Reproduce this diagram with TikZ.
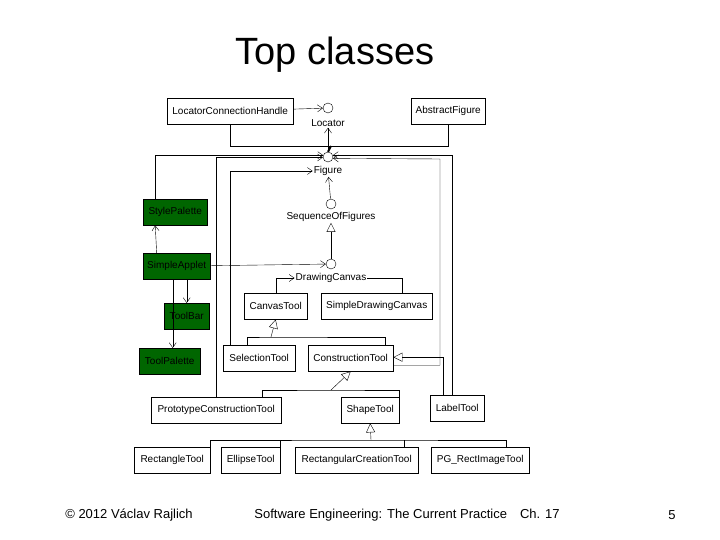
\documentclass[tikz,border=0pt]{standalone}
\usepackage{fontspec}
\setmainfont{Liberation Sans}
\usetikzlibrary{positioning,calc,arrows.meta}
\tikzset{
   umlClass/.style = {
         rectangle,
         draw,
         fill = white,
         anchor = north west,
         inner sep = 1pt,
         font = \fontsize{10}{11}\selectfont,
      },
   umlGreen/.style = {
         umlClass,
         fill = green!40!black,
      },
   umlIface/.style = {
         circle,
         draw,
         fill = white,
         minimum size = 10pt,
         inner sep = 0pt,
      },
   umlName/.style = {
         font = \fontsize{10}{11}\selectfont,
         inner sep = 1pt,
      },
   umlUse/.style = {
         draw,
         -{Straight Barb[open,length=5pt,width=7pt]},
      },
   umlGen/.style = {
         draw,
         -{Triangle[open,length=9pt,width=9pt]},
      },
}
\newcommand{\umlBox}[6][umlClass]{%
   \node [#1, minimum width=#5pt-#3pt, minimum height=26pt] (#2) at (#3,#4) {#6};}

\begin{document}
\begin{tikzpicture}[x=1pt, y=-1pt]
\useasboundingbox (0,0) rectangle (720,540);

% Title and footer
\node (title) at (335,55) {\fontsize{38}{42}\selectfont Top classes};
\node (copy) at (129,515) {\fontsize{13}{15}\selectfont \textcopyright{} 2012 Václav Rajlich};
\node (course) at (407,515) {\fontsize{13}{15}\selectfont Software Engineering: The Current Practice\quad Ch. 17};
\node (page) at (672,515) {\fontsize{13}{15}\selectfont 5};

% Interfaces
\node [umlIface] (locator) at (328,108) {};
\node [umlName] (locator-l) at (328,123) {Locator};
\node [umlIface] (figure) at (328,157) {};
\node [umlName] (figure-l) at (328,171) {Figure};
\node [umlIface] (seq) at (331,204) {};
\node [umlName] (seq-l) at (331,217) {SequenceOfFigures};
\node [umlIface] (canvas) at (331,264) {};
\node [umlName] (canvas-l) at (331,278) {DrawingCanvas};

% Classes
\umlBox{lch}{167}{98}{293}{LocatorConnectionHandle}
\umlBox{abstract}{411}{98}{485}{AbstractFigure}
\umlBox[umlGreen]{style}{143}{199}{207}{StylePalette}
\umlBox[umlGreen]{applet}{143}{253}{210}{SimpleApplet}
\umlBox[umlGreen]{toolbar}{164}{303}{209}{ToolBar}
\umlBox[umlGreen]{palette}{139}{348}{200}{ToolPalette}
\umlBox{canvas-tool}{244}{293}{307}{CanvasTool}
\umlBox{simple-canvas}{321}{293}{432}{SimpleDrawingCanvas}
\umlBox{selection}{223}{345}{295}{SelectionTool}
\umlBox{construction}{308}{345}{393}{ConstructionTool}
\umlBox{prototype}{151}{397}{281}{PrototypeConstructionTool}
\umlBox{shape}{341}{397}{399}{ShapeTool}
\umlBox{label}{430}{395}{484}{LabelTool}
\umlBox{rectangle}{134}{447}{210}{RectangleTool}
\umlBox{ellipse}{221}{447}{280}{EllipseTool}
\umlBox{rect-creation}{295}{447}{418}{RectangularCreationTool}
\umlBox{pg-image}{431}{447}{529}{PG\_RectImageTool}

% Joins
\coordinate (fig-top) at (331,146);
\coordinate (tool-join) at (271,337);
\coordinate (cons-join) at (331,390);
\coordinate (shape-join) at (371,440);

% Edges
\path [umlUse] (lch) -- (locator);
\path [umlUse] (figure) -- (locator-l);
\draw (lch.south) |- (fig-top);
\draw (abstract.south) |- (fig-top);
\draw [line width=2pt] (fig-top) -- (figure.north);

\path [umlUse] ([xshift=-20pt]style.north) |- (figure.160);
\path [umlUse] (prototype.north) |- (figure.185);
\path [umlUse] ([xshift=-29pt]selection.north) |- (figure-l.west);
\path [umlUse] ([yshift=-7pt]construction.east) -| (440,159) -- (figure.345);
\path [umlUse] ([xshift=-5pt]label.north) |- (figure.20);

\path [umlUse] ([xshift=-20pt]applet.north) -- ([xshift=-20pt]style.south);
\path [umlUse] (applet) -- (canvas);
\path [umlUse] (applet.south -| toolbar.north) -- (toolbar.north);
\path [umlUse] ([xshift=3pt]applet.south -| palette.north) -- ([xshift=3pt]palette.north);

\path [umlUse] (seq) -- (figure-l);
\path [umlGen] (canvas) -- (seq-l);
\path [umlUse] (canvas-tool.north) |- (canvas-l.west);
\draw (simple-canvas.north -| 402,0) |- (canvas-l.east);

\draw ([xshift=-12pt]selection.north) |- (tool-join) -| ([xshift=-8pt]construction.north east);
\path [umlGen] (tool-join) -- (canvas-tool.south);
\path [umlGen] ([xshift=-14pt]label.north) |- ([yshift=1pt]construction.east);

\draw (prototype.north -| 262,0) |- (cons-join) -| (shape.north east);
\path [umlGen] (cons-join) -- (construction.south);

\draw (rectangle.north east) |- (shape-join) -| (pg-image.north -| 506,0);
\draw (ellipse.north east) -- (ellipse.north east |- shape-join);
\draw (rect-creation.north -| 404,0) -- (404,440);
\path [umlGen] (shape-join) -- (shape.south);

\end{tikzpicture}
\end{document}
